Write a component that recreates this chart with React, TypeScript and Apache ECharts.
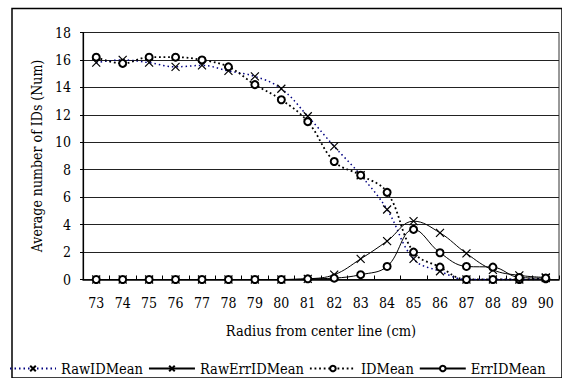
import React, { useEffect, useRef } from "react";
import * as echarts from "echarts";

const categories = ["73", "74", "75", "76", "77", "78", "79", "80", "81", "82", "83", "84", "85", "86", "87", "88", "89", "90"];
const rawIDMean = [15.8, 16.0, 15.8, 15.5, 15.6, 15.2, 14.8, 13.9, 11.9, 9.7, 7.6, 5.1, 1.5, 0.6, 0, 0, 0, 0.1];
const rawErrIDMean = [0, 0, 0, 0, 0, 0, 0, 0, 0.05, 0.35, 1.5, 2.8, 4.25, 3.4, 1.9, 0.7, 0.3, 0.15];
const idMean = [16.2, 15.75, 16.2, 16.2, 16.0, 15.5, 14.2, 13.1, 11.5, 8.6, 7.6, 6.35, 2.0, 0.9, 0, 0, 0, 0.05];
const errIDMean = [0, 0, 0, 0, 0, 0, 0, 0, 0.05, 0.1, 0.35, 0.95, 3.65, 1.95, 0.95, 0.9, 0.15, 0.1];

const FONT = "DejaVu Serif Condensed";
const XMARK = "path://M0,0L10,10M0,10L10,0";

export default function App() {
  const ref = useRef<HTMLDivElement>(null);
  useEffect(() => {
    if (!ref.current) return;
    const chart = echarts.init(ref.current, null, { renderer: "svg" });
    const xItem = { color: "#000", borderColor: "#000", borderWidth: 1.2 };
    const cItem = { color: "#000", borderColor: "#000", borderWidth: 1 };
    chart.setOption({
      animation: false,
      backgroundColor: "#fff",
      textStyle: { fontFamily: FONT, color: "#000" },
      grid: [
        {
          left: 83,
          top: 32.5,
          right: 3,
          bottom: 98.5,
          show: true,
          borderColor: "#333",
          borderWidth: 1,
          backgroundColor: "transparent",
        },
        {
          left: 12,
          top: 8.5,
          width: 600,
          height: 420,
          show: true,
          borderColor: "#000",
          borderWidth: 1.5,
          backgroundColor: "transparent",
          z: 0,
        },
      ],
      legend: {
        left: 4,
        top: 356,
        itemWidth: 46,
        itemHeight: 7,
        itemGap: 5,
        textStyle: { fontFamily: FONT, fontSize: 14.5, color: "#000" },
        data: ["RawIDMean", "RawErrIDMean", "IDMean", "ErrIDMean"],
      },
      xAxis: [
        {
          type: "category",
          data: categories,
          boundaryGap: true,
          name: "Radius from center line (cm)",
          nameLocation: "middle",
          nameGap: 44,
          nameTextStyle: { fontFamily: FONT, fontSize: 14.5, color: "#000" },
          axisLine: { lineStyle: { color: "#000", width: 1.5 } },
          axisTick: { show: true, inside: true, length: 4, lineStyle: { color: "#000" } },
          axisLabel: { fontFamily: FONT, fontSize: 14, color: "#000", margin: 16 },
          splitLine: { show: false },
        },
        { type: "value", gridIndex: 1, show: false, min: 0, max: 1 },
      ],
      yAxis: [
        {
          type: "value",
          min: 0,
          max: 18,
          interval: 2,
          name: "Average number of IDs (Num)",
          nameLocation: "middle",
          nameGap: 36,
          nameTextStyle: { fontFamily: FONT, fontSize: 14, color: "#000" },
          axisLine: { show: true, lineStyle: { color: "#000", width: 1.2 } },
          axisTick: { show: true, length: 3, lineStyle: { color: "#000" } },
          axisLabel: { fontFamily: FONT, fontSize: 14, color: "#000", margin: 12 },
          splitLine: { show: true, lineStyle: { color: "#222", width: 1 } },
        },
        { type: "value", gridIndex: 1, show: false, min: 0, max: 1, splitLine: { show: false } },
      ],
      series: [
        {
          name: "RawIDMean",
          type: "line",
          data: rawIDMean,
          smooth: 0.4,
          symbol: XMARK,
          symbolSize: 8,
          showAllSymbol: true,
          lineStyle: { color: "#000080", width: 1.5, type: [1.5, 3] },
          itemStyle: xItem,
          z: 3,
        },
        {
          name: "RawErrIDMean",
          type: "line",
          data: rawErrIDMean,
          smooth: 0.4,
          symbol: XMARK,
          symbolSize: 8,
          showAllSymbol: true,
          lineStyle: { color: "#000", width: 1 },
          itemStyle: xItem,
          z: 4,
        },
        {
          name: "IDMean",
          type: "line",
          data: idMean,
          smooth: 0.4,
          symbol: "emptyCircle",
          symbolSize: 7,
          showAllSymbol: true,
          lineStyle: { color: "#000", width: 1.8, type: [1.8, 2.8] },
          itemStyle: cItem,
          z: 3,
        },
        {
          name: "ErrIDMean",
          type: "line",
          data: errIDMean,
          smooth: 0.4,
          symbol: "emptyCircle",
          symbolSize: 7,
          showAllSymbol: true,
          lineStyle: { color: "#000", width: 1 },
          itemStyle: cItem,
          z: 4,
        },
      ],
    });
    return () => chart.dispose();
  }, []);
  return (
    <div ref={ref} style={{ position: "fixed", left: 0, top: 0, width: 562, height: 378, background: "#fff" }} />
  );
}
